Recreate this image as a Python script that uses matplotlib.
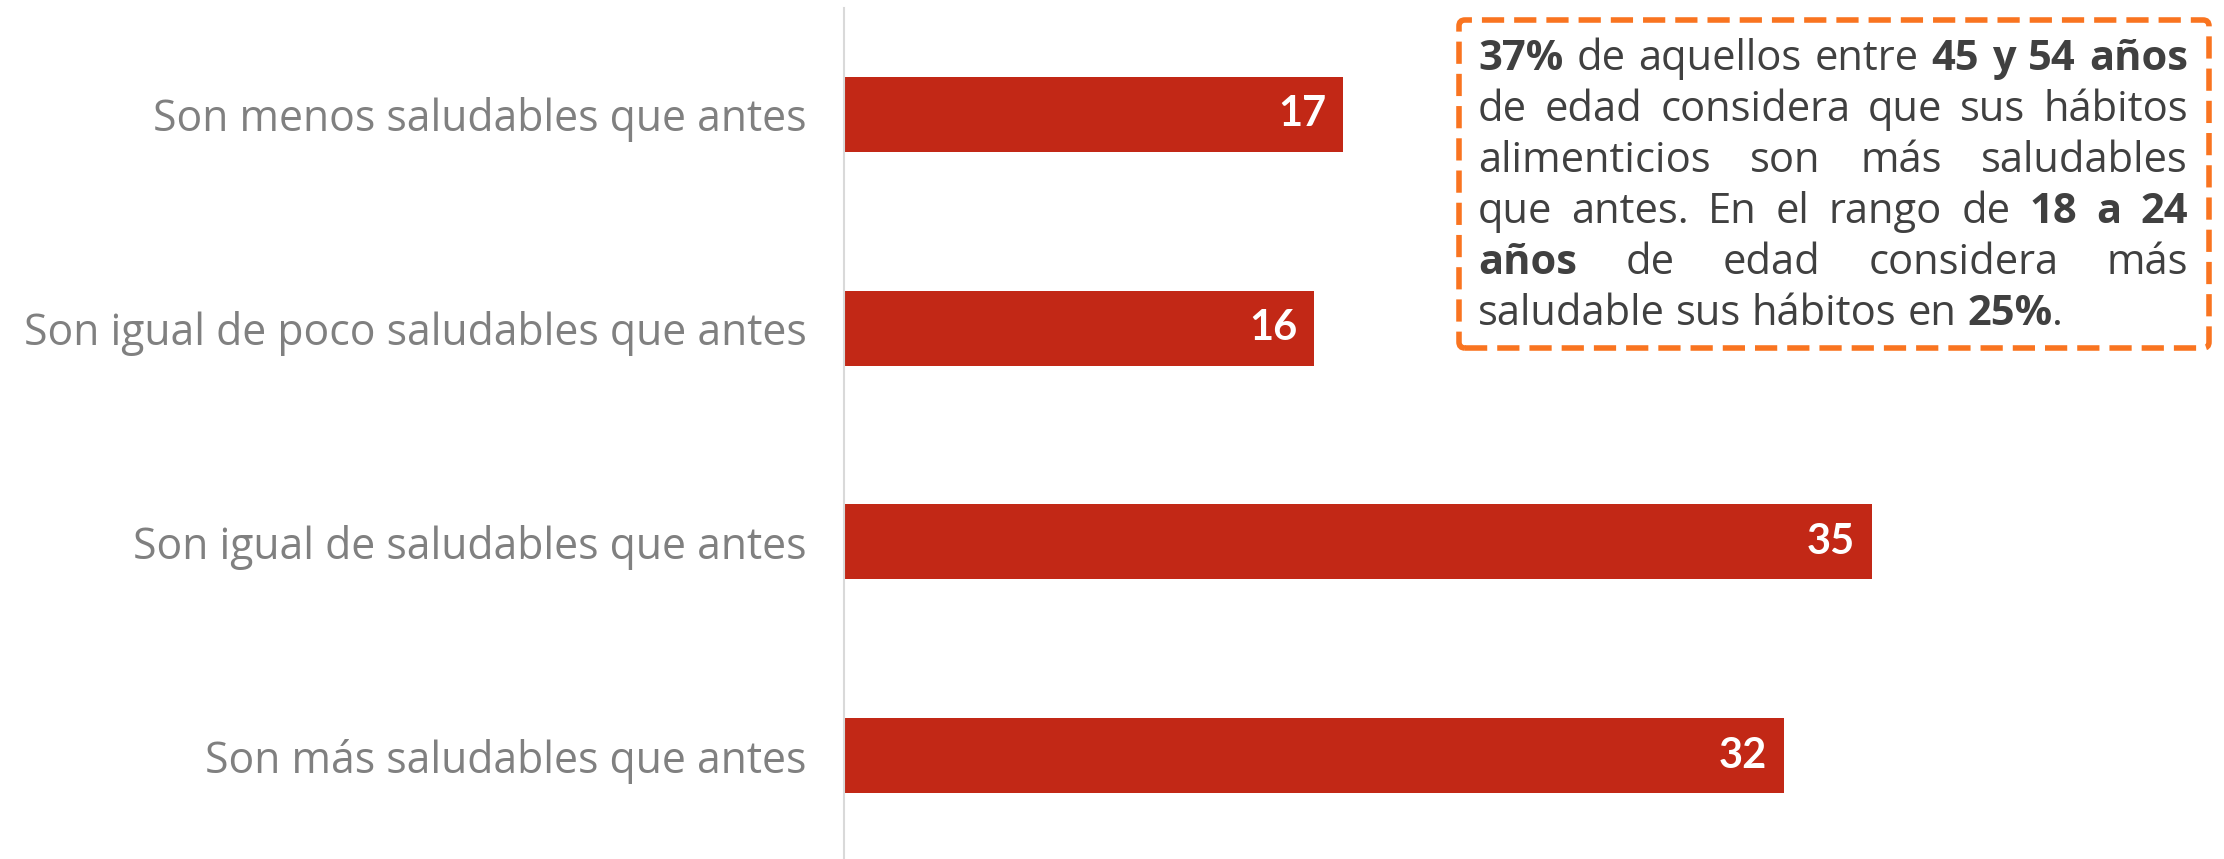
import matplotlib
matplotlib.use("Agg")
import matplotlib.pyplot as plt
from matplotlib.patches import FancyBboxPatch
from matplotlib.transforms import IdentityTransform

categories = [
    "Son menos saludables que antes",
    "Son igual de poco saludables que antes",
    "Son igual de saludables que antes",
    "Son más saludables que antes",
]
values = [17, 16, 35, 32]

# callout text: lines of words, each word a list of (text, bold) pieces
note_lines = [
    [[("37%", True)], [("de", False)], [("aquellos", False)], [("entre", False)],
     [("45", True)], [("y", True)], [("54", True)], [("años", True)]],
    [[("de", False)], [("edad", False)], [("considera", False)], [("que", False)],
     [("sus", False)], [("hábitos", False)]],
    [[("alimenticios", False)], [("son", False)], [("más", False)], [("saludables", False)]],
    [[("que", False)], [("antes.", False)], [("En", False)], [("el", False)], [("rango", False)],
     [("de", False)], [("18", True)], [("a", True)], [("24", True)]],
    [[("años", True)], [("de", False)], [("edad", False)], [("considera", False)], [("más", False)]],
    [[("saludable", False)], [("sus", False)], [("hábitos", False)], [("en", False)],
     [("25%", True), (".", False)]],
]

W, H, DPI = 2224, 859, 100
BAR_COLOR = "#C22816"
LABEL_COLOR = "#808080"
NOTE_COLOR = "#404040"
BOX_COLOR = "#F97420"

fig = plt.figure(figsize=(W / DPI, H / DPI), dpi=DPI)
renderer = fig.canvas.get_renderer()

# size the category labels so the longest one spans ~783 px
LABEL_FONT = "Open Sans"
probe = fig.text(0, 0, max(categories, key=len), fontsize=30, family=LABEL_FONT)
label_fs = 30 * 783 / probe.get_window_extent(renderer).width
probe.remove()

ax_left = 844 / W
ax = fig.add_axes([ax_left, 0.0, 1 - ax_left, 1 - 8 / H])

ypos = list(range(len(categories)))
ax.barh(ypos, values, height=0.35, color=BAR_COLOR)
ax.set_xlim(0, (W - 844) / 29.37)
ax.set_ylim(3 + 103.5 / 214, -106.5 / 214)
ax.set_yticks(ypos)
ax.set_yticklabels(categories, fontsize=label_fs, color=LABEL_COLOR, family=LABEL_FONT)
ax.tick_params(axis="y", length=0, pad=27)
ax.set_xticks([])
for s in ["top", "right", "bottom"]:
    ax.spines[s].set_visible(False)
ax.spines["left"].set_color("#d9d9d9")
ax.spines["left"].set_linewidth(1.5)

for y, v in zip(ypos, values):
    ax.annotate(str(v), xy=(v, y), xytext=(-12, 0), textcoords="offset points",
                ha="right", va="center", color="white", fontsize=30,
                fontweight="bold", family="Lato")

# callout box (display pixel coordinates)
box = FancyBboxPatch((1459, H - 348), 2209 - 1459, 348 - 20,
                     boxstyle="round,pad=0,rounding_size=6",
                     transform=IdentityTransform(), fill=False,
                     edgecolor=BOX_COLOR, linewidth=4, linestyle=(0, (4, 1.8)))
fig.patches.append(box)

text_left, text_right = 1478, 2188
baseline0, line_step = 70, 51
FS = 30


def piece_width(txt, bold):
    t = fig.text(0, 0, txt, fontsize=FS, family="Open Sans",
                 fontweight="bold" if bold else "normal")
    w = t.get_window_extent(renderer).width
    t.remove()
    return w


space_w = piece_width("a a", False) - piece_width("aa", False)

for i, line in enumerate(note_lines):
    widths = [[piece_width(t, b) for t, b in word] for word in line]
    word_w = [sum(w) for w in widths]
    last = i == len(note_lines) - 1
    if last or len(line) == 1:
        gap = space_w
    else:
        gap = (text_right - text_left - sum(word_w)) / (len(line) - 1)
    x = text_left
    ybase = H - (baseline0 + i * line_step)
    for word, ws in zip(line, widths):
        xx = x
        for (t, b), w in zip(word, ws):
            fig.text(xx / W, ybase / H, t, fontsize=FS, family="Open Sans",
                     fontweight="bold" if b else "normal", color=NOTE_COLOR,
                     ha="left", va="baseline")
            xx += w
        x += sum(ws) + gap

fig.savefig("out.png", dpi=DPI)
